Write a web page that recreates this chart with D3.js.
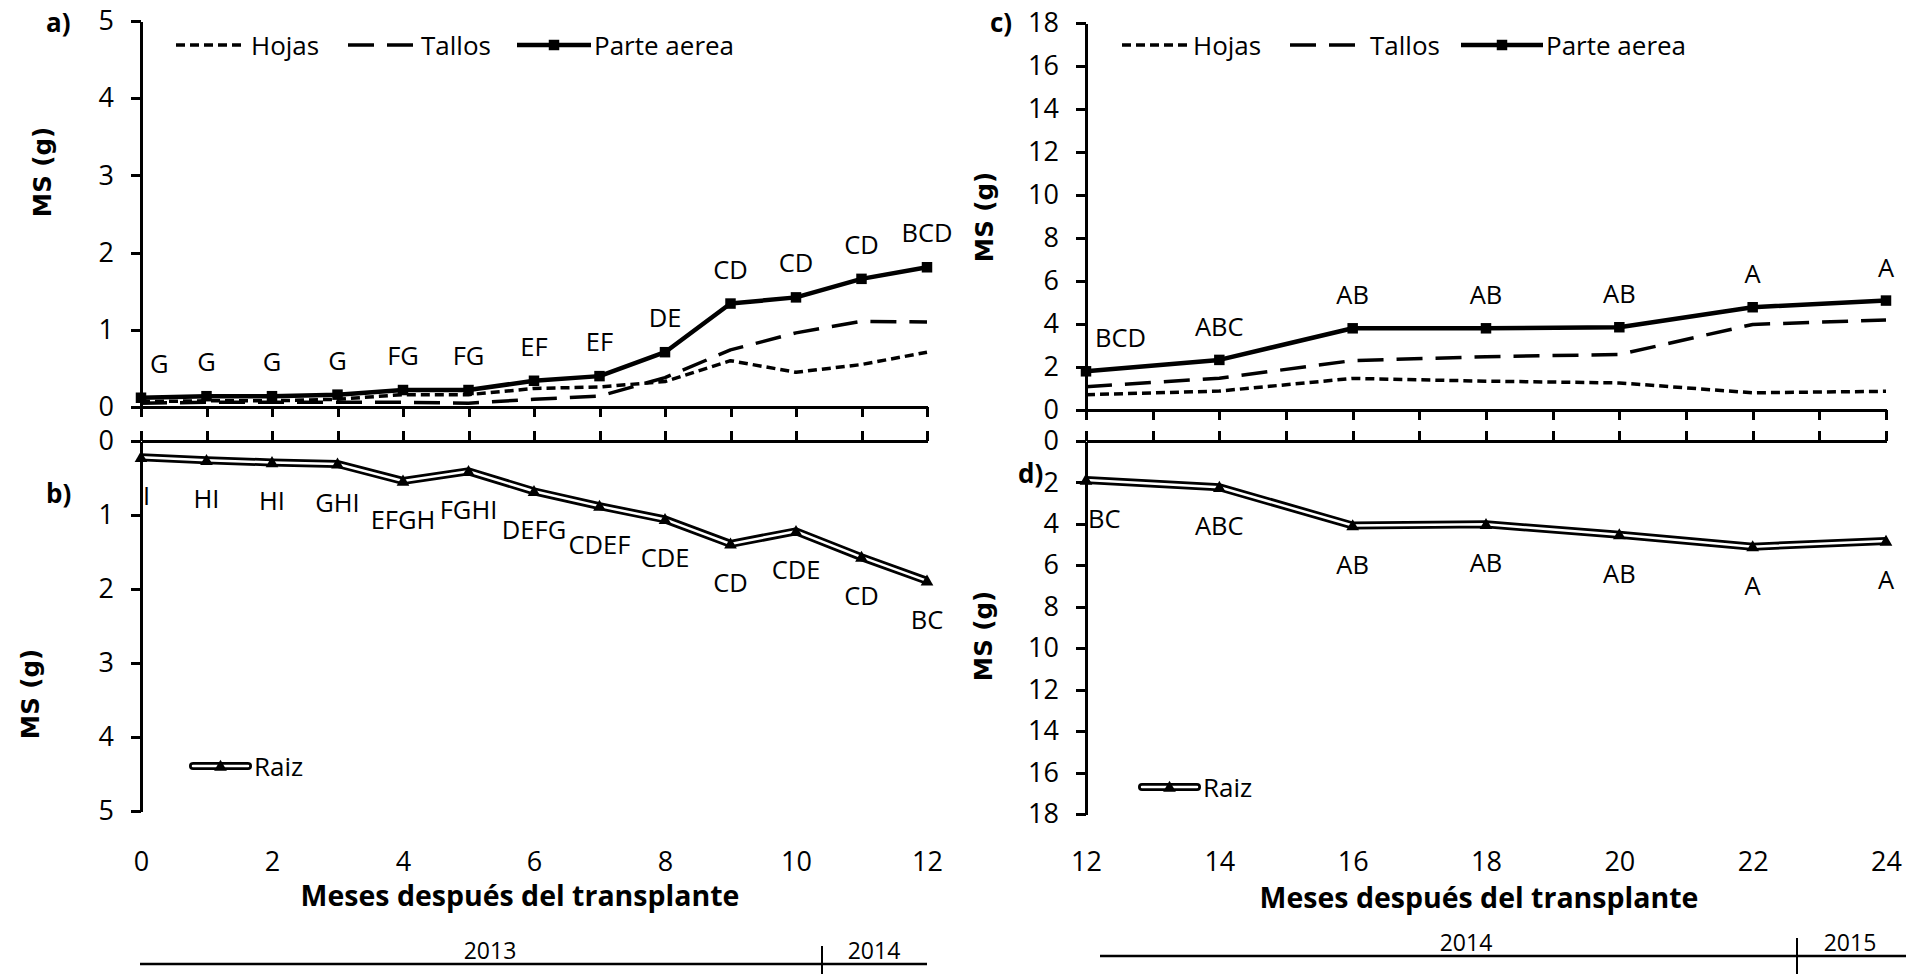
<!DOCTYPE html>
<html><head><meta charset="utf-8">
<script src="https://cdn.jsdelivr.net/npm/d3@7"></script>
<style>
body{margin:0;background:#fff}
svg{display:block}
.ax .domain,.ax line{stroke:#000;stroke-width:3;shape-rendering:crispEdges}
.ax text{font-family:'Open Sans',sans-serif;font-size:27px;fill:#000}
</style>
</head><body>
<svg id="chart" width="1912" height="974"></svg>
<script>
// ---------- data ----------
const monthsA  = [0,1,2,3,4,5,6,7,8,9,10,11,12];
const hojasA   = [0.07,0.08,0.08,0.10,0.16,0.16,0.24,0.26,0.33,0.60,0.45,0.55,0.71];
const tallosA  = [0.05,0.06,0.06,0.06,0.06,0.05,0.10,0.14,0.38,0.74,0.96,1.11,1.10];
const parteA   = [0.12,0.14,0.14,0.16,0.22,0.22,0.34,0.40,0.71,1.34,1.42,1.66,1.81];
const raizB    = [0.22,0.26,0.29,0.31,0.54,0.41,0.68,0.88,1.06,1.39,1.22,1.57,1.89];
const letrasA  = ["G","G","G","G","FG","FG","EF","EF","DE","CD","CD","CD","BCD"];
const letrasB  = ["I","HI","HI","GHI","EFGH","FGHI","DEFG","CDEF","CDE","CD","CDE","CD","BC"];

const monthsC  = [12,14,16,18,20,22,24];
const hojasC   = [0.71,0.88,1.47,1.34,1.26,0.80,0.87];
const tallosC  = [1.08,1.48,2.30,2.48,2.58,3.98,4.19];
const parteC   = [1.80,2.33,3.80,3.80,3.85,4.78,5.09];
const raizD    = [1.88,2.23,4.08,4.02,4.52,5.10,4.83];
const letrasC  = ["BCD","ABC","AB","AB","AB","A","A"];
const letrasD  = ["BC","ABC","AB","AB","AB","A","A"];

const ticksYLeft   = [0,1,2,3,4,5];
const ticksYRight  = [0,2,4,6,8,10,12,14,16,18];
const ticksXLeftMinor  = [0,1,2,3,4,5,6,7,8,9,10,11,12];
const ticksXLeftLabels = [0,2,4,6,8,10,12];
const ticksXRightMinor  = [12,13,14,15,16,17,18,19,20,21,22,23,24];
const ticksXRightLabels = [12,14,16,18,20,22,24];

const legendTop    = ["Hojas","Tallos","Parte aerea"];
const legendBottom = ["Raiz"];
const yearsLeft    = ["2013","2014"];
const yearsRight   = ["2014","2015"];
const panelNames   = ["a)","b)","c)","d)"];
const yTitle = "MS (g)";
const xTitle = "Meses después del transplante";

// ---------- setup ----------
const svg = d3.select("#chart");
svg.append("rect").attr("width",1912).attr("height",974).attr("fill","#fff");
const FONT = "'Open Sans', sans-serif";

const xL = d3.scaleLinear().domain([0,12]).range([141,927]);
const yA = d3.scaleLinear().domain([0,5]).range([407,21]);
const yB = d3.scaleLinear().domain([0,5]).range([441,811]);
const xR = d3.scaleLinear().domain([12,24]).range([1086,1886]);
const yC = d3.scaleLinear().domain([0,18]).range([410,23]);
const yD = d3.scaleLinear().domain([0,18]).range([441,814]);

function yAxis(x, scale, ticks){
  svg.append("g").attr("class","ax").attr("transform",`translate(${x},0)`)
    .call(d3.axisLeft(scale).tickValues(ticks).tickFormat(d3.format("d"))
      .tickSize(10).tickSizeOuter(0).tickPadding(17));
}
function xAxisLine(y, scale, ticks, top){
  const ax = (top ? d3.axisTop(scale) : d3.axisBottom(scale))
    .tickValues(ticks).tickFormat("").tickSize(10).tickSizeOuter(0);
  svg.append("g").attr("class","ax").attr("transform",`translate(0,${y})`).call(ax);
}
function xLabels(y, scale, ticks){
  const g = svg.append("g").attr("class","ax").attr("transform",`translate(0,${y})`)
    .call(d3.axisBottom(scale).tickValues(ticks).tickFormat(d3.format("d")).tickSize(0).tickPadding(0));
  g.select(".domain").remove();
}

// ---------- axes ----------
yAxis(xL(0), yA, ticksYLeft);
xAxisLine(yA(0), xL, ticksXLeftMinor, false);
yAxis(xL(0), yB, ticksYLeft);
xAxisLine(yB(0), xL, ticksXLeftMinor, true);
xLabels(852, xL, ticksXLeftLabels);

yAxis(xR(12), yC, ticksYRight);
xAxisLine(yC(0), xR, ticksXRightMinor, false);
yAxis(xR(12), yD, ticksYRight);
xAxisLine(yD(0), xR, ticksXRightMinor, true);
xLabels(852, xR, ticksXRightLabels);

// ---------- series ----------
const STYLE = {
  hojas:  {w:3.5, dash:"9,5"},
  tallos: {w:3.5, dash:"26,13"},
  parte:  {w:4.5, dash:null}
};
function drawLine(xs, vals, xs_scale, ys, st){
  const line = d3.line().x((d,i)=>xs_scale(xs[i])).y(d=>ys(d));
  svg.append("path").datum(vals).attr("d",line).attr("fill","none")
    .attr("stroke","#000").attr("stroke-width",st.w)
    .attr("stroke-dasharray",st.dash).attr("stroke-linejoin","round");
}
function drawSquares(xs, vals, xsc, ys){
  svg.append("g").selectAll("path").data(vals).join("path")
    .attr("transform",(d,i)=>`translate(${xsc(xs[i])},${ys(d)})`)
    .attr("d",d3.symbol(d3.symbolSquare,110)).attr("fill","#000");
}
function drawRaiz(xs, vals, xsc, ys){
  const line = d3.line().x((d,i)=>xsc(xs[i])).y(d=>ys(d));
  svg.append("path").datum(vals).attr("d",line).attr("fill","none")
    .attr("stroke","#000").attr("stroke-width",8).attr("stroke-linejoin","miter");
  svg.append("path").datum(vals).attr("d",line).attr("fill","none")
    .attr("stroke","#fff").attr("stroke-width",2.5).attr("stroke-linejoin","miter");
  svg.append("g").selectAll("path").data(vals).join("path")
    .attr("transform",(d,i)=>`translate(${xsc(xs[i])},${ys(d)+1})`)
    .attr("d",d3.symbol(d3.symbolTriangle,70)).attr("fill","#000");
}
function drawLetters(xs, vals, letters, xsc, ys, dy, firstDx){
  svg.append("g").selectAll("text").data(letters).join("text")
    .attr("x",(d,i)=> i===0 ? xsc(xs[i])+firstDx : xsc(xs[i]))
    .attr("y",(d,i)=> ys(vals[i])+dy)
    .attr("text-anchor",(d,i)=> i===0 ? "start" : "middle")
    .attr("dominant-baseline","central")
    .attr("font-family",FONT).attr("font-size",25.5).attr("fill","#000")
    .text(d=>d);
}

// panel a
drawLine(monthsA, hojasA, xL, yA, STYLE.hojas);
drawLine(monthsA, tallosA, xL, yA, STYLE.tallos);
drawLine(monthsA, parteA, xL, yA, STYLE.parte);
drawSquares(monthsA, parteA, xL, yA);
drawLetters(monthsA, parteA, letrasA, xL, yA, -35, 9);
// panel b
drawRaiz(monthsA, raizB, xL, yB);
drawLetters(monthsA, raizB, letrasB, xL, yB, 38, 2);
// panel c
drawLine(monthsC, hojasC, xR, yC, STYLE.hojas);
drawLine(monthsC, tallosC, xR, yC, STYLE.tallos);
drawLine(monthsC, parteC, xR, yC, STYLE.parte);
drawSquares(monthsC, parteC, xR, yC);
drawLetters(monthsC, parteC, letrasC, xR, yC, -34, 9);
// panel d
drawRaiz(monthsC, raizD, xR, yD);
drawLetters(monthsC, raizD, letrasD, xR, yD, 38, 2);

// ---------- legends ----------
function topLegend(items, y){
  const keys = ["hojas","tallos","parte"];
  items.forEach((it,i)=>{
    const st = STYLE[keys[i]];
    svg.append("line").attr("x1",it.x1).attr("x2",it.x2).attr("y1",y).attr("y2",y)
      .attr("stroke","#000").attr("stroke-width",st.w).attr("stroke-dasharray",st.dash);
    if(keys[i]==="parte"){
      svg.append("path").attr("transform",`translate(${(it.x1+it.x2)/2},${y})`)
        .attr("d",d3.symbol(d3.symbolSquare,110)).attr("fill","#000");
    }
    svg.append("text").attr("x",it.tx).attr("y",y).attr("dominant-baseline","central")
      .attr("font-family",FONT).attr("font-size",26).text(legendTop[i]);
  });
}
topLegend([{x1:176,x2:246,tx:251},{x1:348,x2:418,tx:421},{x1:517,x2:591,tx:594}],45);
topLegend([{x1:1122,x2:1190,tx:1193},{x1:1290,x2:1367,tx:1370},{x1:1461,x2:1543,tx:1546}],45);

function raizLegend(x1,x2,y){
  const g = svg.append("g");
  g.append("line").attr("x1",x1).attr("x2",x2).attr("y1",y).attr("y2",y)
    .attr("stroke","#000").attr("stroke-width",8).attr("stroke-linecap","round");
  g.append("line").attr("x1",x1).attr("x2",x2).attr("y1",y).attr("y2",y)
    .attr("stroke","#fff").attr("stroke-width",2.5).attr("stroke-linecap","round");
  g.append("path").attr("transform",`translate(${(x1+x2)/2},${y+1})`)
    .attr("d",d3.symbol(d3.symbolTriangle,70)).attr("fill","#000");
  g.append("text").attr("x",x2+6).attr("y",y).attr("dominant-baseline","central")
    .attr("font-family",FONT).attr("font-size",26).text(legendBottom[0]);
}
raizLegend(193,248,766);
raizLegend(1142,1197,787);

// ---------- titles ----------
function yTitleAt(x,y){
  svg.append("text").attr("transform",`translate(${x},${y}) rotate(-90)`)
    .attr("text-anchor","middle").attr("dominant-baseline","central")
    .attr("font-family","'DejaVu Sans', sans-serif").attr("font-weight","bold")
    .attr("font-size",24.5).text(yTitle);
}
yTitleAt(42,172); yTitleAt(30,694); yTitleAt(984,217); yTitleAt(983,636);

function xTitleAt(x,y){
  svg.append("text").attr("x",x).attr("y",y).attr("text-anchor","middle")
    .attr("dominant-baseline","central").attr("font-family",FONT)
    .attr("font-weight","bold").attr("font-size",28.5).text(xTitle);
}
xTitleAt(520, 895);
xTitleAt(1479, 897);

const panelPos = [[46,22],[46,493],[990,22],[1018,473]];
panelNames.forEach((p,i)=>{
  svg.append("text").attr("x",panelPos[i][0]).attr("y",panelPos[i][1])
    .attr("dominant-baseline","central").attr("font-family",FONT)
    .attr("font-weight","bold").attr("font-size",26).text(p);
});

// ---------- year bars ----------
function yearBar(x1,x2,xd,y,labels,lx){
  svg.append("line").attr("x1",x1).attr("x2",x2).attr("y1",y).attr("y2",y)
    .attr("stroke","#000").attr("stroke-width",2.5);
  svg.append("line").attr("x1",xd).attr("x2",xd).attr("y1",y-18).attr("y2",974)
    .attr("stroke","#000").attr("stroke-width",2);
  labels.forEach((t,i)=>{
    svg.append("text").attr("x",lx[i]).attr("y",y-14).attr("text-anchor","middle")
      .attr("dominant-baseline","central").attr("font-family",FONT)
      .attr("font-size",23).text(t);
  });
}
yearBar(140,927,822,964,yearsLeft,[490,874]);
yearBar(1100,1906,1797,956,yearsRight,[1466,1850]);
</script>
</body></html>
